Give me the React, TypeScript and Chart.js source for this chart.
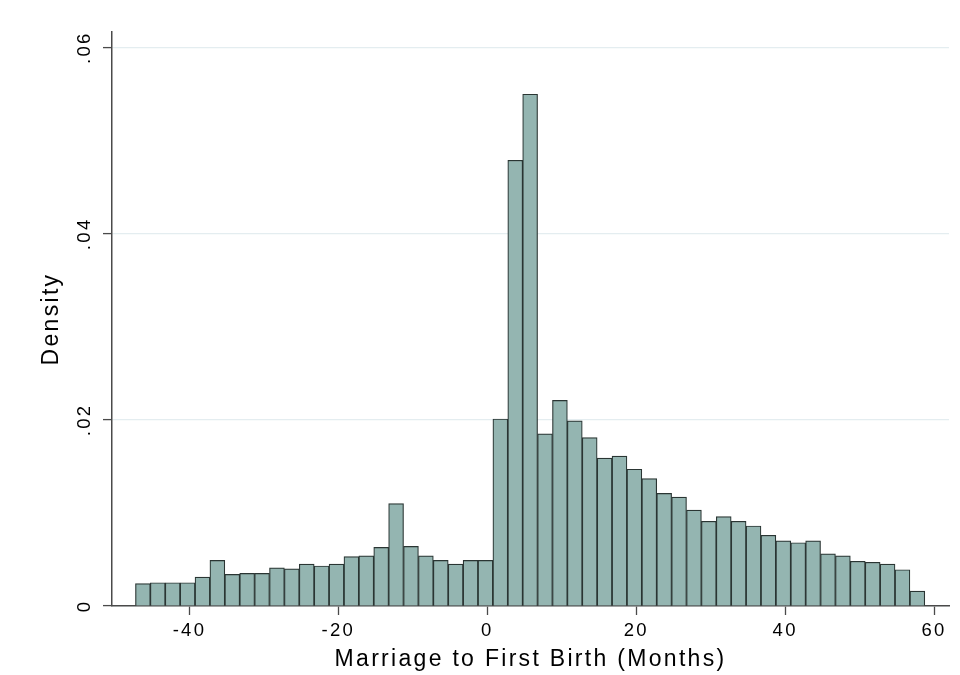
import React, { useEffect, useRef } from "react";
import { Chart, registerables } from "chart.js";

Chart.register(...registerables);

// Histogram bin centers (months), bin width = 2
const binCenters: number[] = [
  -46.25, -44.25, -42.25, -40.25, -38.25, -36.25, -34.25, -32.25, -30.25, -28.25,
  -26.25, -24.25, -22.25, -20.25, -18.25, -16.25, -14.25, -12.25, -10.25, -8.25,
  -6.25, -4.25, -2.25, -0.25, 1.75, 3.75, 5.75, 7.75, 9.75, 11.75,
  13.75, 15.75, 17.75, 19.75, 21.75, 23.75, 25.75, 27.75, 29.75, 31.75,
  33.75, 35.75, 37.75, 39.75, 41.75, 43.75, 45.75, 47.75, 49.75, 51.75,
  53.75, 55.75, 57.75,
];

// Density values
const densities: number[] = [
  0.0024, 0.0025, 0.0025, 0.0025, 0.0031, 0.0049, 0.0034, 0.0035, 0.0035, 0.0041,
  0.0040, 0.0045, 0.0043, 0.0045, 0.0053, 0.0054, 0.0063, 0.0110, 0.0064, 0.0054,
  0.0049, 0.0045, 0.0049, 0.0049, 0.0201, 0.0479, 0.0550, 0.0185, 0.0221, 0.0199,
  0.0181, 0.0159, 0.0161, 0.0147, 0.0137, 0.0121, 0.0117, 0.0103, 0.0091, 0.0096,
  0.0091, 0.0086, 0.0076, 0.0070, 0.0068, 0.0070, 0.0056, 0.0054, 0.0048, 0.0047,
  0.0045, 0.0039, 0.0016,
];

const xTicks: number[] = [-40, -20, 0, 20, 40, 60];
const yTicks: number[] = [0, 0.02, 0.04, 0.06];

const xTitle = "Marriage to First Birth (Months)";
const yTitle = "Density";

const FONT = "'Liberation Sans', Arial, Helvetica, sans-serif";
const SPACING = "2.3px";

const spacingPlugin = {
  id: "letterSpacing",
  beforeLayout(chart: any) {
    (chart.ctx as any).letterSpacing = SPACING;
  },
  beforeDraw(chart: any) {
    (chart.ctx as any).letterSpacing = SPACING;
  },
};

export default function App() {
  const ref = useRef<HTMLCanvasElement | null>(null);

  useEffect(() => {
    if (!ref.current) return;
    const chart = new Chart(ref.current, {
      type: "bar",
      data: {
        datasets: [
          {
            data: binCenters.map((x, i) => ({ x, y: densities[i] })),
            backgroundColor: "#94b5b1",
            borderColor: "#2a3533",
            borderWidth: 1.2,
            barPercentage: 1,
            categoryPercentage: 1,
          },
        ],
      },
      options: {
        animation: false,
        responsive: true,
        maintainAspectRatio: false,
        layout: { padding: { top: 32, right: 11, left: 0, bottom: 0 } },
        plugins: {
          legend: { display: false },
          tooltip: { enabled: false },
        },
        scales: {
          x: {
            type: "linear",
            min: -50.4,
            max: 62.0,
            offset: false,
            afterBuildTicks: (scale: any) => {
              scale.ticks = xTicks.map((v) => ({ value: v }));
            },
            afterFit: (scale: any) => {
              scale.height = 69;
            },
            grid: {
              offset: false,
              drawOnChartArea: false,
              drawTicks: true,
              tickLength: 9,
              tickColor: "#4a4a4a",
              tickWidth: 1.3,
            },
            border: { color: "#4a4a4a", width: 1.5 },
            ticks: {
              autoSkip: false,
              maxRotation: 0,
              minRotation: 0,
              padding: 4.8,
              color: "#000",
              font: { family: FONT, size: 18.5 },
              callback: (v: any) => String(v),
            },
            title: {
              display: true,
              text: xTitle,
              color: "#000",
              font: { family: FONT, size: 23 },
              padding: { top: 0, bottom: 1.5 },
            },
          },
          y: {
            type: "linear",
            min: 0,
            max: 0.06169,
            afterBuildTicks: (scale: any) => {
              scale.ticks = yTicks.map((v) => ({ value: v }));
            },
            afterFit: (scale: any) => {
              scale.width = 112;
            },
            grid: {
              color: "#e4edf0",
              lineWidth: 1.2,
              drawTicks: true,
              tickLength: 9,
              tickColor: "#4a4a4a",
              tickWidth: 1.3,
            },
            border: { color: "#4a4a4a", width: 1.5 },
            ticks: {
              autoSkip: false,
              minRotation: 90,
              maxRotation: 90,
              crossAlign: "center",
              padding: 1.7,
              color: "#000",
              font: { family: FONT, size: 18.5 },
              callback: (v: any) =>
                Number(v) === 0 ? "0" : Number(v).toFixed(2).replace(/^0/, ""),
            },
            title: {
              display: true,
              text: yTitle,
              color: "#000",
              font: { family: FONT, size: 23 },
              padding: { top: 38.2, bottom: 0 },
            },
          },
        },
      },
      plugins: [spacingPlugin],
    } as any);
    return () => chart.destroy();
  }, []);

  return (
    <div
      style={{
        position: "fixed",
        left: 0,
        top: 0,
        width: 960,
        height: 675,
        background: "#fff",
      }}
    >
      <canvas ref={ref} />
    </div>
  );
}
